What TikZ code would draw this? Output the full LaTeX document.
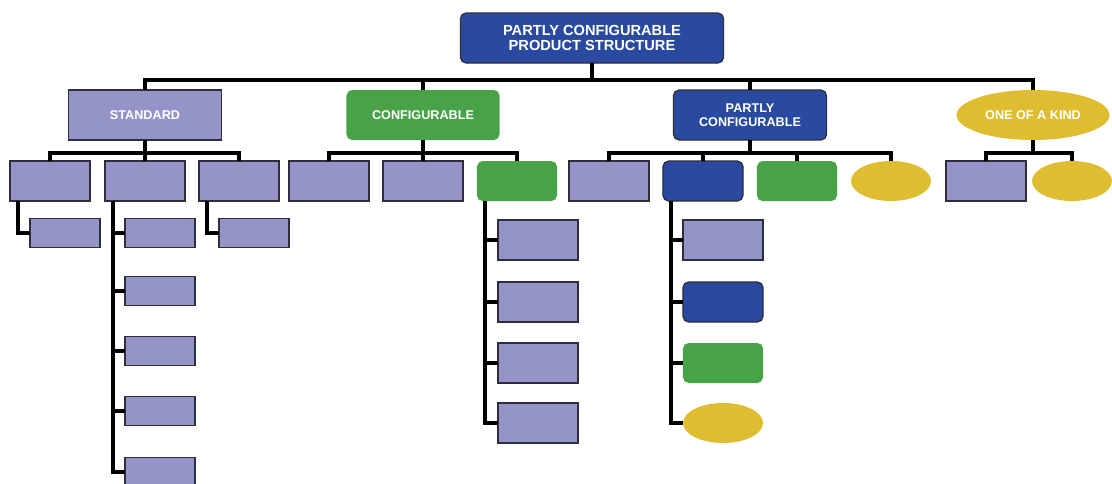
\documentclass[tikz,border=0pt]{standalone}
\usepackage{fontspec}
\setsansfont{Liberation Sans}
\usetikzlibrary{shapes.geometric}
\definecolor{BoxLavender}{RGB}{148,148,200}
\definecolor{BoxBlue}{RGB}{41,74,158}
\definecolor{BoxGreen}{RGB}{72,162,72}
\definecolor{BoxYellow}{RGB}{222,190,48}
\definecolor{BoxEdge}{RGB}{45,45,60}

\begin{document}
\begin{tikzpicture}[x=0.025cm, y=-0.025cm,
    box/.style={inner sep=0pt, outer sep=0pt, align=center, text=white,
      font=\sffamily\bfseries\fontsize{9}{9.6}\selectfont},
    lav/.style={box, rectangle, fill=BoxLavender, draw=BoxEdge, line width=0.9pt},
    blu/.style={box, rectangle, rounded corners=4pt, fill=BoxBlue, draw=BoxEdge, line width=0.9pt},
    grn/.style={box, rectangle, rounded corners=4pt, fill=BoxGreen},
    yel/.style={box, ellipse, fill=BoxYellow},
    big/.style={minimum width=3.825cm, minimum height=1.25cm},
    mid/.style={minimum width=2cm, minimum height=1cm},
    sml/.style={minimum width=1.75cm, minimum height=0.725cm},
    conn/.style={line width=2.6pt, black}]

    \clip (0,0) rectangle (1112,483);

    % Root
    \node[blu, minimum width=6.575cm, minimum height=1.25cm,
      font=\sffamily\bfseries\fontsize{10.4}{10.2}\selectfont] (root) at (592,38)
      {PARTLY CONFIGURABLE\\PRODUCT STRUCTURE};

    % First level
    \node[lav, big] (std) at (145,115) {STANDARD};
    \node[grn, big] (cfg) at (423,115) {CONFIGURABLE};
    \node[blu, big] (pcf) at (750,115) {PARTLY\\CONFIGURABLE};
    \node[yel, big] (ook) at (1033,115) {ONE OF A KIND};

    % Second level
    \node[lav, mid] (s1) at (50,181) {};
    \node[lav, mid] (s2) at (145,181) {};
    \node[lav, mid] (s3) at (239,181) {};
    \node[lav, mid] (c1) at (329,181) {};
    \node[lav, mid] (c2) at (423,181) {};
    \node[grn, mid] (c3) at (517,181) {};
    \node[lav, mid] (p1) at (609,181) {};
    \node[blu, mid] (p2) at (703,181) {};
    \node[grn, mid] (p3) at (797,181) {};
    \node[yel, mid] (p4) at (891,181) {};
    \node[lav, mid] (o1) at (986,181) {};
    \node[yel, mid] (o2) at (1072,181) {};

    % Third level, standard
    \node[lav, sml] (s1a) at (65,233) {};
    \node[lav, sml] (s3a) at (254,233) {};
    \node[lav, sml] (s2a) at (160,233) {};
    \node[lav, sml] (s2b) at (160,291) {};
    \node[lav, sml] (s2c) at (160,351) {};
    \node[lav, sml] (s2d) at (160,411) {};
    \node[lav, sml] (s2e) at (160,472) {};

    % Third level, configurable
    \node[lav, mid] (c3a) at (538,240) {};
    \node[lav, mid] (c3b) at (538,302) {};
    \node[lav, mid] (c3c) at (538,363) {};
    \node[lav, mid] (c3d) at (538,423) {};

    % Third level, partly configurable
    \node[lav, mid] (p2a) at (723,240) {};
    \node[blu, mid] (p2b) at (723,302) {};
    \node[grn, mid] (p2c) at (723,363) {};
    \node[yel, mid] (p2d) at (723,423) {};

    % Connectors
    \foreach \c in {std,cfg,pcf,ook}
      \draw[conn] (root.south) -- ++(0,17) -| (\c.north);
    \foreach \c in {s1,s2,s3}
      \draw[conn] (std.south) -- ++(0,13) -| (\c.north);
    \foreach \c in {c1,c2,c3}
      \draw[conn] (cfg.south) -- ++(0,13) -| (\c.north);
    \foreach \c in {p1,p2,p3,p4}
      \draw[conn] (pcf.south) -- ++(0,13) -| (\c.north);
    \foreach \c in {o1,o2}
      \draw[conn] (ook.south) -- ++(0,13) -| (\c.north);

    \draw[conn] ([shift={(8,0)}]s1.south west) |- (s1a.west);
    \draw[conn] ([shift={(8,0)}]s3.south west) |- (s3a.west);
    \foreach \c in {s2a,s2b,s2c,s2d,s2e}
      \draw[conn] ([shift={(8,0)}]s2.south west) |- (\c.west);
    \foreach \c in {c3a,c3b,c3c,c3d}
      \draw[conn] ([shift={(8,0)}]c3.south west) |- (\c.west);
    \foreach \c in {p2a,p2b,p2c,p2d}
      \draw[conn] ([shift={(8,0)}]p2.south west) |- (\c.west);
  \end{tikzpicture}
\end{document}
